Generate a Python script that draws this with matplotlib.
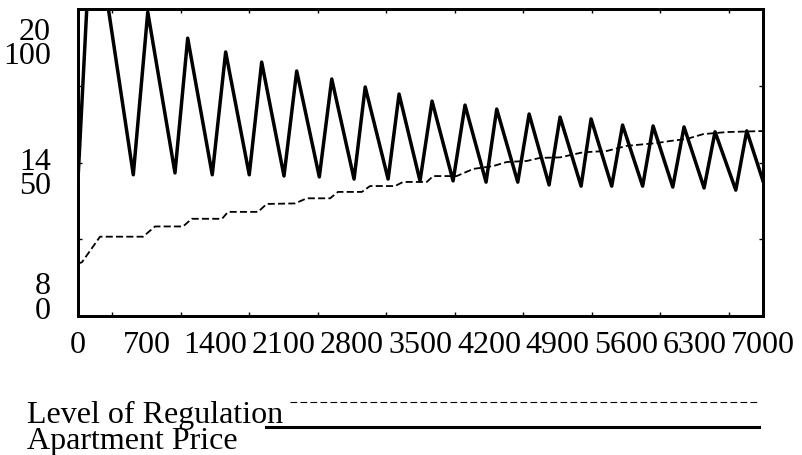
import matplotlib
matplotlib.use("Agg")
import matplotlib.pyplot as plt
from matplotlib.lines import Line2D

# Apartment Price (right-hand scale 0-100), peaks and troughs
price_t = [0, 146, 565, 713, 991, 1121, 1372, 1509, 1750, 1877, 2105, 2235,
           2466, 2593, 2821, 2935, 3169, 3281, 3495, 3618, 3833, 3955, 4170,
           4279, 4494, 4610, 4814, 4926, 5141, 5243, 5454, 5565, 5770, 5877,
           6078, 6193, 6398, 6510, 6722, 6834, 7000]
price_v = [44.6, 135, 46, 99, 46.6, 90.5, 46, 86, 46, 82.7, 45.6, 79.8,
           45.3, 77.2, 44.6, 74.6, 44.6, 72.3, 44, 70, 44, 68.7, 43.6,
           67.4, 43.6, 65.8, 42.7, 64.8, 42.3, 64.2, 42.3, 62.2, 42.3, 61.9,
           42, 61.6, 41.7, 60, 41, 60.3, 44]

# Level of Regulation (scale 8-20)
reg_t = [0, 40, 225, 665, 787, 1074, 1162, 1472, 1533, 1840, 1928, 2218,
         2337, 2576, 2657, 2900, 2985, 3240, 3322, 3564, 3630, 3870, 4040,
         4243, 4381, 4586, 4722, 4926, 5162, 5403, 5607, 5914, 6050, 6220,
         6390, 6630, 7000]
reg_v = [10.05, 10.1, 11.1, 11.1, 11.5, 11.5, 11.8, 11.8, 12.07, 12.07, 12.38,
         12.4, 12.6, 12.6, 12.85, 12.85, 13.08, 13.08, 13.24, 13.24, 13.47,
         13.47, 13.75, 13.86, 14.02, 14.06, 14.18, 14.2, 14.4, 14.45, 14.65,
         14.76, 14.84, 14.92, 15.11, 15.19, 15.23]

x_ticks = [0, 700, 1400, 2100, 2800, 3500, 4200, 4900, 5600, 6300, 7000]
x_labels = [str(v) for v in x_ticks]
reg_labels = ["20", "14", "8"]
price_labels = ["100", "50", "0"]
series_names = ["Level of Regulation", "Apartment Price"]

plt.rcParams["font.family"] = ["Liberation Serif", "DejaVu Serif"]
FS = 23

W, H = 803, 456
fig = plt.figure(figsize=(W / 100, H / 100), dpi=100)


def px(x, y):
    # pixel position (from top-left) -> figure fraction
    return x / W, 1 - y / H


L, R, T, B = 78, 763, 10, 317
ax = fig.add_axes([L / W, 1 - B / H, (R - L) / W, (B - T) / H])
ax.plot(price_t, price_v, color="black", linewidth=2.5, solid_joinstyle="round")
ax.set_xlim(0, 7000)
ax.set_ylim(0, 100)

ax2 = ax.twinx()
ax2.plot(reg_t, reg_v, color="black", linewidth=1.3, dashes=(3.9, 1.8))
ax2.set_ylim(8, 20)
ax2.set_yticks([])

for a in (ax, ax2):
    for s in a.spines.values():
        s.set_linewidth(2)

ax.set_xticks(x_ticks, x_labels, fontsize=FS)
ax.set_xticks(range(0, 7001, 350), minor=True)
ax.set_yticks([25, 50, 75], minor=True)
ax.set_yticks([])
ax.tick_params(axis="x", which="major", length=0, pad=10)
ax.tick_params(axis="both", which="minor", direction="in", length=3, width=1,
               top=True, right=True)

# stacked left-hand scale labels (regulation over price)
for r, p, y in zip(reg_labels, price_labels, [44.5, 174.5, 299]):
    fig.text(*px(51, y), r + "\n" + p, ha="right", va="center",
             multialignment="right", linespacing=0.78, fontsize=FS)

# legend drawn below the chart
fig.text(*px(27, 428.5), "\n".join(series_names), ha="left", va="center",
         linespacing=0.82, fontsize=FS)
fig.add_artist(Line2D([px(290, 0)[0], px(759, 0)[0]], [px(0, 403)[1]] * 2,
                      color="black", linewidth=0.8, dashes=(6, 3)))
fig.add_artist(Line2D([px(266, 0)[0], px(759, 0)[0]], [px(0, 428)[1]] * 2,
                      color="black", linewidth=2.2))

fig.savefig("out.png", dpi=100)
